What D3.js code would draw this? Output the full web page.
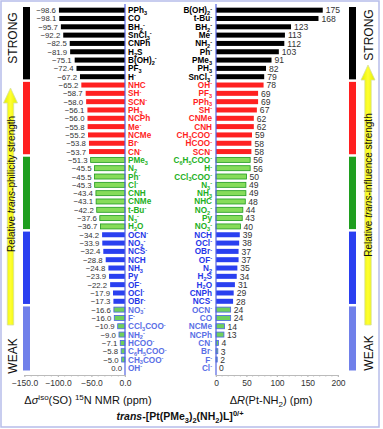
<!DOCTYPE html>
<html>
<head>
<meta charset="utf-8">
<title>trans-philicity / trans-influence</title>
<script src="https://cdn.jsdelivr.net/npm/d3@7"></script>
<style>
body{margin:0;background:#fff;}
text{font-family:"Liberation Sans",Arial,sans-serif;}
</style>
</head>
<body>
<script>
// left panel: delta sigma iso (SO) 15N NMR, ppm
var leftLabels = ["PPh_3","CO","BH_2^-","SnCl_3^-","CNPh","H_2S","B(OH)_2^-","PF_3","H^-",
  "NHC","SH^-","SCN^-","PH_3","NCPh","Me^-","NCMe","Br^-","CN^-",
  "PMe_3","N_2","Ph^-","Cl^-","CNH","CNMe","t-Bu^-","N_3^-","H_2O",
  "OCN^-","NO_2^-","NCS^-","NCH","NH_3","Py","OF^-","OCl^-","OBr^-",
  "NO_3^-","F^-","CCl_3COO^-","NH_2^-","HCOO^-","C_6H_5COO^-","CH_3COO^-","OH^-"];
var leftValues = [-98.6,-98.1,-95.7,-92.2,-82.5,-81.9,-75.1,-72.4,-67.2,
  -65.2,-58.7,-58.0,-56.1,-56.0,-55.8,-55.2,-53.8,-53.7,
  -51.3,-45.5,-45.5,-45.3,-43.4,-43.1,-42.2,-37.6,-36.7,
  -34.2,-33.9,-32.4,-28.8,-24.8,-23.9,-22.2,-17.9,-17.3,
  -16.6,-16.0,-10.9,-9.0,-7.1,-5.8,-5.0,0.0];
// right panel: delta R(Pt-NH2), pm
var rightLabels = ["B(OH)_2^-","t-Bu^-","BH_2^-","Me^-","NH_2^-","Ph^-","PMe_3","PH_3","SnCl_3^-",
  "OH^-","PF_3","PPh_3","SH^-","CNMe","CNH","CH_3COO^-","HCOO^-","SCN^-",
  "C_6H_5COO^-","H^-","CCl_3COO^-","N_3^-","NH_3","NHC","NO_2^-","Py","NO_3^-",
  "NCH","OCl^-","OBr^-","OF^-","N_2","H_2S","H_2O","CNPh","NCS^-",
  "OCN^-","CO","NCMe","NCPh","CN^-","Br^-","F^-","Cl^-"];
var rightValues = [175,168,123,113,112,103,91,82,79,
  78,69,69,67,62,62,59,58,58,
  56,56,50,49,49,48,44,43,40,
  39,38,37,37,35,34,31,29,28,
  24,24,14,13,4,3,2,0];
var groupSizes = [9,9,9,9,8];
var leftTicks = [-150,-100,-50,0];
var rightTicks = [0,50,100,150,200];

var stripColor = ["#000000","#ff1f1f","#1f9e1f","#2a3ff0","#7080ea"];
var labelColor = ["#000000","#ff1f1f","#22b022","#2536e8","#5a6fe6"];
var barFill    = ["#000000","#ff2020","#86dc5a","#2a40f0","#6fcf5c"];
var barStroke  = ["none","none","#1f9a1f","none","#4a63e6"];

var groupOf = [];
groupSizes.forEach(function(n, g){ for (var i = 0; i < n; i++) groupOf.push(g); });

var W = 383, H = 429;
var svg = d3.select("body").append("svg").attr("width", W).attr("height", H);

svg.append("rect").attr("x", 1).attr("y", 1).attr("width", 378).attr("height", 426)
  .attr("fill", "none").attr("stroke", "#b7bdea").attr("stroke-width", 1.5);

var y = d3.scaleBand().domain(d3.range(leftValues.length)).range([6, 372]);
var xL = d3.scaleLinear().domain([-150, 0]).range([24.5, 125]);
var xR = d3.scaleLinear().domain([0, 200]).range([216, 338]);
var bh = 5;

// sub/superscript text: _x subscript, ^x superscript
function rich(sel, str, fs) {
  var parts = str.match(/[_^]\{[^}]*\}|[_^].|[^_^]+/g);
  var shift = 0;
  parts.forEach(function(p){
    var t = p, dy = 0, size = fs;
    if (p[0] === "_" || p[0] === "^") {
      t = p.slice(1).replace(/[{}]/g, "");
      size = fs * 0.68;
      dy = p[0] === "_" ? fs * 0.22 : -fs * 0.32;
    }
    var ts = sel.append("tspan").attr("dy", dy - shift).attr("font-size", size).text(t);
    if (t === "t" && p === "t") ts.attr("font-style", "italic");
    shift = dy;
  });
}

// ---- left panel
var gl = svg.append("g");
gl.selectAll("rect.bar").data(leftValues).enter().append("rect")
  .attr("class", "bar")
  .attr("x", function(d){ return xL(d); })
  .attr("y", function(d, i){ return y(i) + y.bandwidth()/2 - bh/2; })
  .attr("width", function(d){ return xL(0) - xL(d); })
  .attr("height", bh)
  .attr("fill", function(d, i){ return barFill[groupOf[i]]; })
  .attr("stroke", function(d, i){ return barStroke[groupOf[i]]; })
  .attr("stroke-width", 0.8);

gl.selectAll("text.val").data(leftValues).enter().append("text")
  .attr("class", "val")
  .attr("x", function(d){ return xL(d) - 3; })
  .attr("y", function(d, i){ return y(i) + y.bandwidth()/2 + 3; })
  .attr("text-anchor", "end").attr("font-size", 7.8).attr("fill", "#333")
  .text(function(d){ return d3.format(".1f")(d); });

gl.selectAll("text.lab").data(leftLabels).enter().append("text")
  .attr("class", "lab")
  .attr("x", 128)
  .attr("y", function(d, i){ return y(i) + y.bandwidth()/2 + 3; })
  .attr("font-weight", "bold")
  .attr("fill", function(d, i){ return labelColor[groupOf[i]]; })
  .each(function(d){ rich(d3.select(this), d, 8.2); });

// ---- right panel
var gr = svg.append("g");
gr.selectAll("rect.bar").data(rightValues).enter().append("rect")
  .attr("class", "bar")
  .attr("x", xR(0))
  .attr("y", function(d, i){ return y(i) + y.bandwidth()/2 - bh/2; })
  .attr("width", function(d){ return xR(d) - xR(0); })
  .attr("height", bh)
  .attr("fill", function(d, i){ return barFill[groupOf[i]]; })
  .attr("stroke", function(d, i){ return barStroke[groupOf[i]]; })
  .attr("stroke-width", 0.8);

gr.selectAll("text.val").data(rightValues).enter().append("text")
  .attr("class", "val")
  .attr("x", function(d){ return xR(d) + 3; })
  .attr("y", function(d, i){ return y(i) + y.bandwidth()/2 + 3.3; })
  .attr("font-size", 8.6).attr("fill", "#333")
  .text(function(d){ return d; });

gr.selectAll("text.lab").data(rightLabels).enter().append("text")
  .attr("class", "lab")
  .attr("x", 212)
  .attr("y", function(d, i){ return y(i) + y.bandwidth()/2 + 3; })
  .attr("text-anchor", "end")
  .attr("font-weight", "bold")
  .attr("fill", function(d, i){ return labelColor[groupOf[i]]; })
  .each(function(d){ rich(d3.select(this), d, 8.2); });

// vertical zero lines
[xL(0), xR(0)].forEach(function(x){
  svg.append("line").attr("x1", x).attr("x2", x).attr("y1", 4).attr("y2", 375)
    .attr("stroke", "#5565e2").attr("stroke-width", 1.2);
});

// x axes
function styleAxis(g) {
  g.select(".domain").attr("stroke", "#bbb");
  g.selectAll(".tick line").attr("stroke", "#bbb");
  g.selectAll(".tick text").attr("font-size", 8.5).attr("fill", "#333")
    .attr("font-family", "Liberation Sans, Arial, sans-serif");
}
var axL = svg.append("g").attr("transform", "translate(0,375)")
  .call(d3.axisBottom(xL).tickValues(leftTicks).tickFormat(d3.format(".1f")).tickSize(2).tickSizeOuter(0));
styleAxis(axL);
var axR = svg.append("g").attr("transform", "translate(0,375)")
  .call(d3.axisBottom(xR).tickValues(rightTicks).tickSize(2).tickSizeOuter(0));
styleAxis(axR);
// minor ticks
svg.append("g").selectAll("line").data(d3.range(-150, 1, 10)).enter().append("line")
  .attr("x1", function(d){ return xL(d); }).attr("x2", function(d){ return xL(d); })
  .attr("y1", 375).attr("y2", 376.5).attr("stroke", "#bbb");
svg.append("g").selectAll("line").data(d3.range(0, 201, 10)).enter().append("line")
  .attr("x1", function(d){ return xR(d); }).attr("x2", function(d){ return xR(d); })
  .attr("y1", 375).attr("y2", 376.5).attr("stroke", "#bbb");

// axis titles
var t1 = svg.append("text").attr("x", 88).attr("y", 404).attr("text-anchor", "middle")
  .attr("font-size", 11).attr("fill", "#111");
t1.append("tspan").text("Δ");
t1.append("tspan").attr("font-style", "italic").text("σ");
t1.append("tspan").attr("dy", -4).attr("font-size", 8).text("iso");
t1.append("tspan").attr("dy", 4).text("(SO) ");
t1.append("tspan").attr("dy", -4).attr("font-size", 8).text("15");
t1.append("tspan").attr("dy", 4).text("N NMR (ppm)");

var t2 = svg.append("text").attr("x", 271).attr("y", 404).attr("text-anchor", "middle")
  .attr("font-size", 11).attr("fill", "#111");
t2.append("tspan").text("Δ");
t2.append("tspan").attr("font-style", "italic").text("R");
t2.append("tspan").text("(Pt-NH");
t2.append("tspan").attr("dy", 3).attr("font-size", 8).text("2");
t2.append("tspan").attr("dy", -3).text(") (pm)");

var t3 = svg.append("text").attr("x", 180).attr("y", 420).attr("text-anchor", "middle")
  .attr("font-size", 10.5).attr("font-weight", "bold").attr("fill", "#111");
t3.append("tspan").attr("font-style", "italic").text("trans");
t3.append("tspan").text("-[Pt(PMe");
t3.append("tspan").attr("dy", 3).attr("font-size", 7.5).text("3");
t3.append("tspan").attr("dy", -3).text(")");
t3.append("tspan").attr("dy", 3).attr("font-size", 7.5).text("2");
t3.append("tspan").attr("dy", -3).text("(NH");
t3.append("tspan").attr("dy", 3).attr("font-size", 7.5).text("2");
t3.append("tspan").attr("dy", -3).text(")L]");
t3.append("tspan").attr("dy", -4).attr("font-size", 7.5).text("0/+");

// ---- side strips
var defs = svg.append("defs");
var grad = defs.append("linearGradient").attr("id", "yel").attr("x1", 0).attr("x2", 1).attr("y1", 0).attr("y2", 0);
grad.append("stop").attr("offset", 0).attr("stop-color", "#e2ee00");
grad.append("stop").attr("offset", 0.5).attr("stop-color", "#ffff30");
grad.append("stop").attr("offset", 1).attr("stop-color", "#e2ee00");

function strip(x) {
  var start = 0;
  groupSizes.forEach(function(n, g){
    var y0 = y(start) + 1, y1 = y(start + n - 1) + y.step() - 1.5;
    svg.append("rect").attr("x", x).attr("y", y0).attr("width", 7).attr("height", y1 - y0)
      .attr("fill", stripColor[g]);
    start += n;
  });
}
strip(23);
strip(349);

function arrow(cx, tip, bottom) {
  var hw = 7, sw = 3.2, hh = 15;
  var p = d3.path();
  p.moveTo(cx, tip);
  p.lineTo(cx + hw, tip + hh);
  p.lineTo(cx + sw, tip + hh);
  p.lineTo(cx + sw, bottom);
  p.lineTo(cx - sw, bottom);
  p.lineTo(cx - sw, tip + hh);
  p.lineTo(cx - hw, tip + hh);
  p.closePath();
  svg.append("path").attr("d", p.toString()).attr("fill", "url(#yel)")
    .attr("stroke", "#d5e0a0").attr("stroke-width", 0.8);
}
arrow(10.5, 88, 325);
arrow(368, 65, 325);

function vtext(x, yc, fs, build) {
  var t = svg.append("text").attr("transform", "translate(" + x + "," + yc + ") rotate(-90)")
    .attr("text-anchor", "middle").attr("font-size", fs).attr("fill", "#111");
  build(t);
}
vtext(16.5, 38, 12, function(t){ t.text("STRONG"); });
vtext(16.5, 356, 12, function(t){ t.text("WEAK"); });
vtext(14.5, 184, 10, function(t){
  t.append("tspan").text("Relative ");
  t.append("tspan").attr("font-style", "italic").text("trans");
  t.append("tspan").text("-philicity strength");
});
vtext(372.5, 35, 12, function(t){ t.text("STRONG"); });
vtext(372.5, 353, 12, function(t){ t.text("WEAK"); });
vtext(372, 185, 10, function(t){
  t.append("tspan").text("Relative ");
  t.append("tspan").attr("font-style", "italic").text("trans");
  t.append("tspan").text("-influence strength");
});
</script>
</body>
</html>
